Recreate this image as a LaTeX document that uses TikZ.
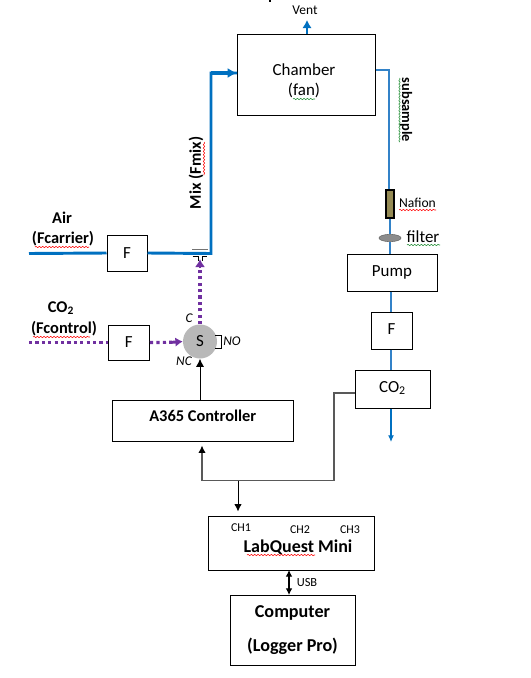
\documentclass[tikz,border=0pt]{standalone}
\usepackage{fontspec}
\setmainfont{Carlito}
\usetikzlibrary{arrows.meta,decorations.pathmorphing,shapes.geometric}
\definecolor{flow}{RGB}{0,112,192}
\definecolor{thinb}{RGB}{50,130,200}
\definecolor{co2}{RGB}{112,48,160}
\definecolor{naf}{RGB}{148,138,84}
\definecolor{sqgreen}{RGB}{30,140,50}
\tikzset{
 x=0.75pt,y=-0.75pt,
 box/.style={draw=black,line width=0.75pt,fill=white,inner sep=0pt,align=center,text=black},
 reg/.style={font=\fontsize{12.7pt}{15pt}\selectfont},
 flowline/.style={draw=flow,line width=2.2pt},
 thinline/.style={draw=thinb,line width=1pt},
 gasline/.style={draw=co2,line width=2.4pt,dash pattern=on 2.4pt off 2.4pt},
 tip/.style={-{Latex[length=6pt,width=6pt]}},
 tiny/.style={font=\fontsize{9pt}{11pt}\selectfont,inner sep=0pt},
 lab/.style={font=\fontsize{12.3pt}{15.5pt}\selectfont\bfseries,align=center,inner sep=0pt},
 ital/.style={font=\fontsize{10pt}{12pt}\selectfont\itshape,inner sep=0pt},
 squig/.style={decorate,decoration={snake,amplitude=0.5pt,segment length=2.5pt},line width=0.4pt},
}
\newcommand{\bx}[6]{\node[box,minimum width=#4*0.75pt-#2*0.75pt,minimum height=#5*0.75pt-#3*0.75pt,#6] (#1) at ({(#2+#4)/2},{(#3+#5)/2})}
\begin{document}
\begin{tikzpicture}
\useasboundingbox (0,0) rectangle (531,678);
\fill[white] (0,0) rectangle (531,678);
% boxes
\bx{chamber}{237.5}{34}{375}{115}{}{};
\node[reg,align=center,inner sep=0pt] (lch) at (304,81) {Chamber\\(fan)};
\bx{fair}{107}{235}{147}{271}{reg}{F};
\bx{fco}{108}{325}{149.5}{360}{reg}{F};
\bx{ctrl}{112.5}{400.5}{293}{441}{lab}{\raisebox{8pt}{A365 Controller}};
\bx{lq}{208}{516}{374}{570}{}{};
\bx{comp}{230}{595}{355}{665}{font=\fontsize{13.6pt}{26pt}\selectfont\bfseries}{Computer\\(Logger Pro)};
\bx{pump}{347}{254}{437}{291}{reg}{\raisebox{2pt}{Pump}};
\bx{fs}{371}{312}{412}{349}{reg}{\raisebox{2pt}{F}};
\bx{cos}{355}{370}{430}{408}{reg}{\raisebox{3pt}{CO\textsubscript{2}}};
\node[circle,fill=black!28,minimum size=25.5pt,inner sep=0pt,font=\fontsize{12.7pt}{15pt}\selectfont] (s) at (200,341.5) {S};
\node[draw=black,fill=naf,line width=0.8pt,minimum width=6pt,minimum height=21pt,inner sep=0pt] (nafion) at (390,204) {};
\node[draw=black!60,fill=black!45,ellipse,minimum width=16.5pt,minimum height=5.5pt,inner sep=0pt] (filt) at (390,238) {};
% coordinates
\coordinate (air0) at (29,253.5);
\coordinate (j) at (211,253.5);
\coordinate (jt) at (211,73);
\coordinate (ventend) at (307,20);
\coordinate (sc) at (389,70);
\coordinate (outend) at (391,442);
\coordinate (co0) at (29,342.5);
\coordinate (a) at (202,480.7);
\coordinate (b) at (334,480.7);
\coordinate (bb) at (334,393);
\coordinate (m) at (238,480.7);
\coordinate (us) at (289,570);
\coordinate (ue) at (289,595);
\coordinate (no1) at (215,335);
\coordinate (no2) at (221,335);
\coordinate (no3) at (221,348);
\coordinate (no4) at (215,348);
\coordinate (vs) at (307,34);
% blue lines
\draw[flowline] (air0) -- (fair.west);
\draw[flowline] (fair.east) -- (j) -- (jt) -- (chamber.west |- jt);
\draw[flow,line width=2.4pt,-{Latex[length=7pt,width=7.5pt]}] (jt) -- (chamber.west |- jt);
\draw[flow,line width=2pt,-{Latex[length=6pt,width=7pt]}] (vs) -- (ventend);
\draw[thinline] (chamber.east |- sc) -- (sc) -- (sc |- nafion.north);
\draw[thinline] (nafion.south) -- (filt.north);
\draw[thinline] (filt.south) -- (filt |- pump.north);
\draw[thinline] (outend |- pump.south) -- (outend |- fs.north);
\draw[thinline] (outend |- fs.south) -- (outend |- cos.north);
\draw[flow,line width=0.9pt,-{Latex[length=5pt,width=4.5pt]}] (outend |- cos.south) -- (outend);
% valve marks
\draw[black!55,line width=0.8pt] (192,249.7) -- (208,249.7);
\draw[black,line width=0.7pt] (192.5,256.5) -- (198,256.5) -- (198,261);
\draw[black,line width=0.7pt] (202,261) -- (202,256.5) -- (207,256.5);
% gas
\draw[gasline] (co0) -- (fco.west);
\draw[gasline] (fco.east) -- (172,342.3);
\draw[co2,line width=2.2pt,-{Latex[length=5.5pt,width=7pt]}] (172,342.3) -- (s.west);
\draw[gasline] (s.north) -- (200,267);
\draw[co2,line width=2.2pt,-{Latex[length=6pt,width=7.5pt]}] (200,268) -- (200,259);
\draw[black,line width=0.7pt] (no1) -- (no2) -- (no3) -- (no4);
% signal lines
\draw[black,line width=0.7pt,tip] (s |- ctrl.north) -- (s.south);
\draw[black!65,line width=1pt] (cos.west |- bb) -- (bb) -- (b) -- (a);
\draw[black!65,line width=1pt,shorten >=3pt,-{Latex[length=5.5pt,width=5.5pt,color=black]}] (a) -- (a |- ctrl.south);
\draw[black,line width=0.7pt,shorten >=3pt,-{Latex[length=5.5pt,width=5.5pt]}] (m) -- (m |- lq.north);
\draw[black,line width=0.8pt,{Latex[length=5pt,width=5pt]}-{Latex[length=5pt,width=5pt]}] (us) -- (ue);
% labels
\node[font=\fontsize{10.1pt}{12pt}\selectfont,inner sep=0pt] (lvent) at (305,10.5) {Vent};
\node[lab] (lair) at (62,218) {Air};
\node[lab] (lfc) at (63,239) {(Fcarrier)};
\node[lab] (lco) at (61,308) {CO\textsubscript{2}};
\node[lab] (lfct) at (64,329) {(Fcontrol)};
\node[ital] (lc) at (189,318.5) {C};
\node[ital] (lnc) at (184,361) {NC};
\node[ital] (lno) at (232,341) {NO};
\node[lab,rotate=90] (lmix) at (196,173) {Mix (Fmix)};
\node[font=\fontsize{10.8pt}{13pt}\selectfont\bfseries,inner sep=0pt,rotate=-90] (lsub) at (406,110) {subsample};
\node[font=\fontsize{10.2pt}{12pt}\selectfont,inner sep=0pt] (lnaf) at (417.5,203) {Nafion};
\node[reg,inner sep=0pt] (lfil) at (423,237) {filter};
\node[tiny] (ch1) at (241,528) {CH1};
\node[tiny] (ch2) at (300,530) {CH2};
\node[tiny] (ch3) at (350,530) {CH3};
\node[font=\fontsize{13.5pt}{16pt}\selectfont\bfseries,inner sep=0pt] (llq) at (298,547) {LabQuest Mini};
\node[font=\fontsize{9.3pt}{11pt}\selectfont,inner sep=0pt] (lusb) at (307,583) {USB};
% spell-check squiggles
\draw[squig,red] (35,247) -- (89,247);
\draw[squig,red] (33,337) -- (90,337);
\draw[squig,red] (204,142) -- (204,175);
\draw[squig,sqgreen] (399.5,78) -- (399.5,142);
\draw[squig,red] (399,210) -- (436,210);
\draw[squig,sqgreen] (407,245) -- (440,245);
\draw[squig,sqgreen] (293,99) -- (315,99);
\draw[squig,red] (247,555) -- (315,555);
\fill[black] (269,0) rectangle (270.5,1.5);
\end{tikzpicture}
\end{document}
